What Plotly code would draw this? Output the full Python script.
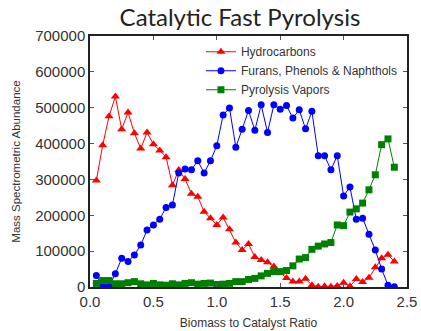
import plotly.graph_objects as go

ratio = [round(0.05 * i, 2) for i in range(1, 49)]

hydrocarbons = [297000, 395000, 476000, 531000, 440000, 487000, 429000, 386000, 431000, 398000,
                381000, 362000, 284000, 326000, 301000, 260000, 252000, 210000, 192000, 173000,
                194000, 161000, 124000, 103000, 120000, 84000, 75000, 69000, 57000, 40000,
                25000, 15000, 15000, 23000, 5000, 1000, 2000, 1000, 3000, 12000,
                2000, 22000, 14000, 26000, 55000, 80000, 90000, 71000]

furans = [32000, 2000, 2000, 37000, 80000, 71000, 89000, 117000, 159000, 173000,
          189000, 222000, 229000, 318000, 329000, 327000, 352000, 318000, 352000, 394000,
          480000, 499000, 390000, 440000, 492000, 437000, 508000, 431000, 508000, 496000,
          506000, 471000, 494000, 441000, 490000, 366000, 366000, 327000, 366000, 254000,
          279000, 189000, 192000, 147000, 103000, 50000, 5000, 1000]

vapors = [10000, 18000, 18000, 9000, 9000, 12000, 15000, 9000, 6000, 10000,
          6000, 5000, 9000, 6000, 10000, 12000, 8000, 10000, 11000, 7000,
          8000, 10000, 15000, 15000, 21000, 24000, 31000, 38000, 43000, 43000,
          46000, 59000, 78000, 82000, 105000, 114000, 120000, 124000, 173000, 171000,
          209000, 218000, 234000, 271000, 313000, 397000, 413000, 334000]

series = [
    ("Hydrocarbons", hydrocarbons, "#ff0000", "triangle-up", 8),
    ("Furans, Phenols & Naphthols", furans, "#0000ff", "circle", 7),
    ("Pyrolysis Vapors", vapors, "#008000", "square", 7),
]

fig = go.Figure()
for name, vals, col, sym, sz in series:
    fig.add_trace(go.Scatter(
        x=ratio, y=vals, name=name, mode="lines+markers",
        line=dict(color=col, width=1),
        marker=dict(symbol=sym, size=sz, color=col, line=dict(width=0)),
    ))

axis_common = dict(
    showline=True, linecolor="#222", linewidth=1.5, mirror="ticks",
    ticks="inside", ticklen=4, tickcolor="#555", tickwidth=1,
    showgrid=False, zeroline=False, automargin=False,
    tickfont=dict(family="Liberation Sans, Arial", size=15, color="#333"),
)

fig.update_layout(
    width=421, height=331,
    margin=dict(l=90, r=14, t=36, b=44),
    paper_bgcolor="white", plot_bgcolor="white",
    title=dict(text="Catalytic Fast Pyrolysis", x=0.570, xanchor="center",
               y=0.948, yanchor="middle", automargin=False,
               font=dict(family="Lato, Open Sans", size=24, color="#222")),
    xaxis=dict(range=[0, 2.5], dtick=0.5, tick0=0, tickformat=".1f",
               title=dict(text="Biomass to Catalyst Ratio", standoff=10,
                          font=dict(family="Liberation Sans, Arial", size=12, color="#333")),
               **axis_common),
    yaxis=dict(range=[0, 700000], dtick=100000, tick0=0, tickformat="d",
               title=dict(text="Mass Spectrometric Abundance", standoff=12,
                          font=dict(family="Liberation Sans, Arial", size=11.5, color="#333")),
               **axis_common),
    legend=dict(x=0.35, y=0.995, xanchor="left", yanchor="top",
                bgcolor="rgba(0,0,0,0)", borderwidth=0,
                font=dict(family="Liberation Sans, Arial", size=12, color="#333"),
                tracegroupgap=0, itemwidth=30),
    showlegend=True,
)

fig.write_html("out.html")
